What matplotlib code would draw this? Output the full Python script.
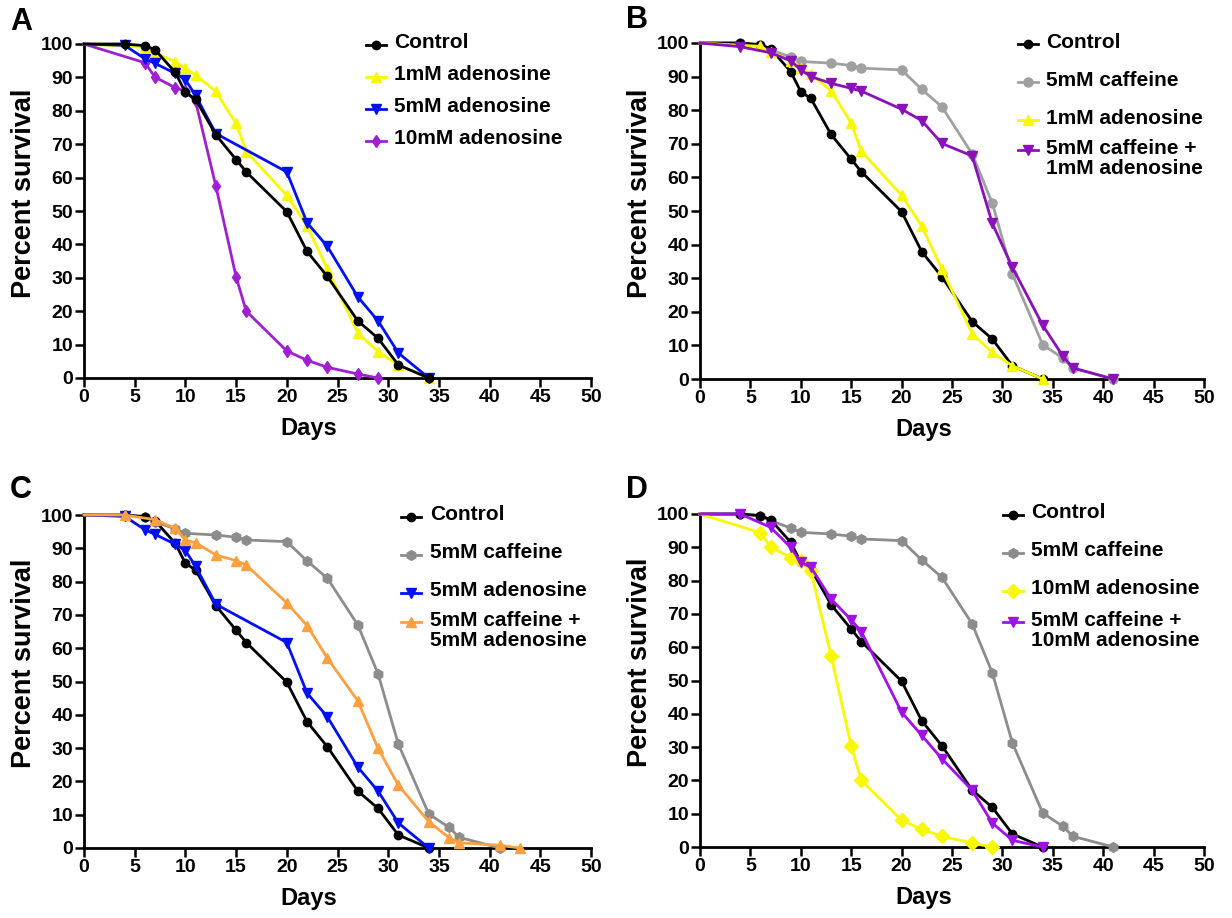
import matplotlib
matplotlib.use('Agg')
import matplotlib.pyplot as plt

plt.rcParams['font.family'] = ['Liberation Sans', 'DejaVu Sans']
plt.rcParams['font.weight'] = 'bold'

W, H = 1232, 918

# ─── Data (days, percent survival) ───────────────────────────────────────────
ctrl_days = [0, 4, 6, 7, 9, 10, 11, 13, 15, 16, 20, 22, 24, 27, 29, 31, 34]
ctrl_surv = [100, 100, 99.5, 98.3, 91.5, 85.5, 83.5, 72.8, 65.4, 61.7, 49.8,
             37.9, 30.4, 17.1, 11.9, 3.9, 0]

caf_days = [0, 4, 6, 7, 9, 10, 13, 15, 16, 20, 22, 24, 27, 29, 31, 34, 36, 37, 41]
caf_surv = [100, 100, 99.5, 98, 95.8, 94.5, 94, 93.3, 92.5, 92, 86.2, 81, 67,
            52.3, 31.2, 10.2, 6.2, 3.2, 0]

ad1_days = [0, 6, 7, 9, 10, 11, 13, 15, 16, 20, 22, 24, 27, 29, 31, 34]
ad1_surv = [100, 99, 97.3, 94.7, 92.7, 90.7, 85.8, 76.2, 67.8, 54.7, 45.5,
            32.7, 13.5, 7.9, 3.9, 0]

ad5_days = [0, 4, 6, 7, 9, 10, 11, 13, 20, 22, 24, 27, 29, 31, 34]
ad5_surv = [100, 99.6, 95.6, 94.2, 91.2, 89.3, 84.6, 73.2, 61.7, 46.5, 39.4,
            24.3, 17.1, 7.5, 0]

ad10_days = [0, 6, 7, 9, 10, 11, 13, 15, 16, 20, 22, 24, 27, 29]
ad10_surv = [100, 94.4, 90.1, 86.9, 85.9, 82.9, 57.5, 30.3, 20, 8.1, 5.3,
             3.2, 1.2, 0]

caf_ad1_days = [0, 4, 7, 9, 10, 11, 13, 15, 16, 20, 22, 24, 27, 29, 31, 34,
                36, 37, 41]
caf_ad1_surv = [100, 98.9, 97.1, 94.7, 92, 90, 88, 86.5, 85.7, 80.3, 76.9,
                70.1, 66.4, 46.3, 33.2, 16, 6.8, 3.3, 0]

caf_ad5_days = [0, 4, 7, 9, 10, 11, 13, 15, 16, 20, 22, 24, 27, 29, 31, 34,
                36, 37, 41, 43]
caf_ad5_surv = [100, 100, 98.6, 96, 92.4, 91.7, 88, 86.3, 85, 73.6, 66.8, 57,
                44.2, 29.9, 18.9, 7.9, 3.1, 1.6, 0.8, 0]

caf_ad10_days = [0, 4, 7, 9, 10, 11, 13, 15, 16, 20, 22, 24, 27, 29, 31, 34]
caf_ad10_surv = [100, 100, 96, 90, 85.5, 84, 74.5, 68.2, 64.7, 40.5, 33.5,
                 26.5, 17, 7.2, 2, 0]

# ─── Styles ──────────────────────────────────────────────────────────────────
BLACK = '#000000'
YELLOW = '#F8F800'
BLUE = '#0010F0'
PURPLE = '#A020D0'
GREY_B = '#A0A0A0'
GREY = '#8C8C8C'
DPURPLE = '#8A10B8'
ORANGE = '#FFA040'
VIOLET = '#A010E8'

fig = plt.figure(figsize=(W / 100, H / 100), dpi=100)
fig.patch.set_facecolor('white')


def px_axes(x0, x1, y_top, y_bot):
    return fig.add_axes([x0 / W, 1 - y_bot / H, (x1 - x0) / W, (y_bot - y_top) / H])


def style(ax, x0, x1, y_top, y_bot):
    ax.set_xlim(0, 50)
    ax.set_ylim(0, 100)
    ax.set_xticks(range(0, 51, 5))
    ax.set_yticks(range(0, 101, 10))
    for s in ('top', 'right'):
        ax.spines[s].set_visible(False)
    for s in ('left', 'bottom'):
        ax.spines[s].set_linewidth(2.0)
    ax.tick_params(direction='out', length=6.5, width=1.8, labelsize=14, pad=1.5)
    for t in ax.get_xticklabels() + ax.get_yticklabels():
        t.set_fontweight('bold')
    w, h = x1 - x0, y_bot - y_top
    # GraphPad-style label placement (Days sits left of centre, y title above)
    ax.set_xlabel('Days', fontsize=17, fontweight='bold')
    ax.xaxis.set_label_coords(0.444, -39 / h)
    ax.xaxis.label.set_va('top')
    ax.set_ylabel('Percent survival', fontsize=19.5, fontweight='bold')
    ax.yaxis.set_label_coords(-60 / w, 0.554)
    ax.yaxis.label.set_va('center')


def series(ax, x, y, color, marker, ms=6.5):
    ax.plot(x, y, color=color, lw=2.0, marker=marker, ms=ms,
            markevery=range(1, len(x)),
            markeredgecolor=color, clip_on=False, zorder=3)


def legend(entries, mx0, mx1, tx, rows):
    for (label, color, marker, ms), ry in zip(entries, rows):
        fig.lines.append(plt.Line2D([mx0 / W, mx1 / W], [1 - ry / H] * 2,
                                    transform=fig.transFigure, color=color, lw=2.0))
        fig.lines.append(plt.Line2D([(mx0 + mx1) / 2 / W], [1 - ry / H],
                                    transform=fig.transFigure, color=color,
                                    marker=marker, ms=ms, markeredgecolor=color))
        fig.text(tx / W, 1 - (ry - 11.5) / H, label, fontsize=15, fontweight='bold',
                 ha='left', va='top', linespacing=1.08)


PANEL_A = (84, 591, 44, 378)
PANEL_B = (700, 1204, 43, 379)
PANEL_C = (84, 591, 515, 848)
PANEL_D = (700, 1204, 514, 847)

# ─── Panel A ─────────────────────────────────────────────────────────────────
axA = px_axes(*PANEL_A)
style(axA, *PANEL_A)
series(axA, ad10_days, ad10_surv, PURPLE, 'd', 6.5)
series(axA, ad1_days, ad1_surv, YELLOW, '^', 7)
series(axA, ad5_days, ad5_surv, BLUE, 'v', 7)
series(axA, ctrl_days, ctrl_surv, BLACK, 'o', 6)
legend([('Control', BLACK, 'o', 6), ('1mM adenosine', YELLOW, '^', 7),
        ('5mM adenosine', BLUE, 'v', 7), ('10mM adenosine', PURPLE, 'd', 6.5)],
       366, 386, 394, [45, 77, 109, 141])

# ─── Panel B ─────────────────────────────────────────────────────────────────
axB = px_axes(*PANEL_B)
style(axB, *PANEL_B)
series(axB, caf_days, caf_surv, GREY_B, 'o', 6.5)
series(axB, ctrl_days, ctrl_surv, BLACK, 'o', 6)
series(axB, ad1_days, ad1_surv, YELLOW, '^', 7)
series(axB, caf_ad1_days, caf_ad1_surv, DPURPLE, 'v', 7)
legend([('Control', BLACK, 'o', 6), ('5mM caffeine', GREY_B, 'o', 6.5),
        ('1mM adenosine', YELLOW, '^', 7),
        ('5mM caffeine +\n1mM adenosine', DPURPLE, 'v', 7)],
       1018, 1038, 1046, [44, 82, 120, 150])

# ─── Panel C ─────────────────────────────────────────────────────────────────
axC = px_axes(*PANEL_C)
style(axC, *PANEL_C)
series(axC, caf_days, caf_surv, GREY, 'h', 7)
series(axC, ctrl_days, ctrl_surv, BLACK, 'o', 6)
series(axC, ad5_days, ad5_surv, BLUE, 'v', 7)
series(axC, caf_ad5_days, caf_ad5_surv, ORANGE, '^', 7)
legend([('Control', BLACK, 'o', 6), ('5mM caffeine', GREY, 'h', 7),
        ('5mM adenosine', BLUE, 'v', 7),
        ('5mM caffeine +\n5mM adenosine', ORANGE, '^', 7)],
       401, 421, 430, [517, 555, 593, 622])

# ─── Panel D ─────────────────────────────────────────────────────────────────
axD = px_axes(*PANEL_D)
style(axD, *PANEL_D)
series(axD, caf_days, caf_surv, GREY, 'h', 7)
series(axD, ctrl_days, ctrl_surv, BLACK, 'o', 6)
series(axD, ad10_days, ad10_surv, YELLOW, 'D', 7)
series(axD, caf_ad10_days, caf_ad10_surv, VIOLET, 'v', 7)
legend([('Control', BLACK, 'o', 6), ('5mM caffeine', GREY, 'h', 7),
        ('10mM adenosine', YELLOW, 'D', 7),
        ('5mM caffeine +\n10mM adenosine', VIOLET, 'v', 7)],
       1003, 1023, 1031, [515, 553, 591, 622])

# ─── Panel letters ───────────────────────────────────────────────────────────
for letter, x, y in [('A', 10, 22), ('B', 626, 20), ('C', 10, 490), ('D', 626, 490)]:
    fig.text(x / W, 1 - y / H, letter, fontsize=22, fontweight='bold',
             ha='left', va='center')

fig.savefig('out.png', dpi=100, facecolor='white')
